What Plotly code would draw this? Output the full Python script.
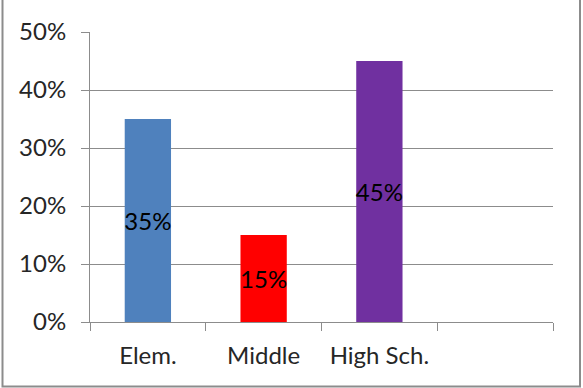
import plotly.graph_objects as go

# Share by school level
levels = ["Elem.", "Middle", "High Sch.", " "]
shares = [0.35, 0.15, 0.45, None]
bar_colors = ["#4F81BD", "#FF0000", "#7030A0", "#FFFFFF"]
y_ticks = [0, 0.1, 0.2, 0.3, 0.4, 0.5]

FONT = "Lato"
TXT = "#262626"

fig = go.Figure(
    go.Bar(
        x=levels,
        y=shares,
        marker=dict(color=bar_colors, line=dict(width=0)),
        texttemplate="%{y:.0%}",
        textposition="inside",
        insidetextanchor="middle",
        textangle=0,
        constraintext="none",
        textfont=dict(family=FONT, size=24, color="#000000"),
        hoverinfo="skip",
    )
)

L, R, T, B = 90, 30, 32, 66
W, H = 583, 388
pw, ph = W - L - R, H - T - B

fig.update_layout(
    width=W,
    height=H,
    margin=dict(l=L, r=R, t=T, b=B),
    paper_bgcolor="white",
    plot_bgcolor="white",
    bargap=0.6,
    showlegend=False,
    font=dict(family=FONT, size=24, color=TXT),
    shapes=[
        dict(
            type="rect",
            xref="paper",
            yref="paper",
            x0=(2.5 - L) / pw,
            x1=(580 - L) / pw,
            y0=-(H - 1.5 - T - ph) / ph,
            y1=(H - T - 2.5) / ph,
            line=dict(color="#8C8C8C", width=2),
            layer="below",
        )
    ],
)

fig.update_xaxes(
    type="category",
    categoryorder="array",
    categoryarray=levels,
    range=[-0.5, 3.5],
    tickson="boundaries",
    ticks="outside",
    ticklen=8,
    tickcolor="#8C8C8C",
    showline=True,
    linecolor="#8C8C8C",
    linewidth=1,
    showgrid=False,
    ticklabelstandoff=12,
    tickfont=dict(family=FONT, size=24, color=TXT),
    fixedrange=True,
)

fig.update_yaxes(
    range=[0, 0.5],
    tickvals=y_ticks,
    tickformat=".0%",
    ticks="outside",
    ticklen=8,
    tickcolor="#8C8C8C",
    showline=True,
    linecolor="#8C8C8C",
    linewidth=1,
    showgrid=True,
    gridcolor="#8C8C8C",
    gridwidth=1,
    zeroline=False,
    ticklabelstandoff=10,
    tickfont=dict(family=FONT, size=24, color=TXT),
    fixedrange=True,
)

fig.write_html("out.html", config={"displayModeBar": False})
